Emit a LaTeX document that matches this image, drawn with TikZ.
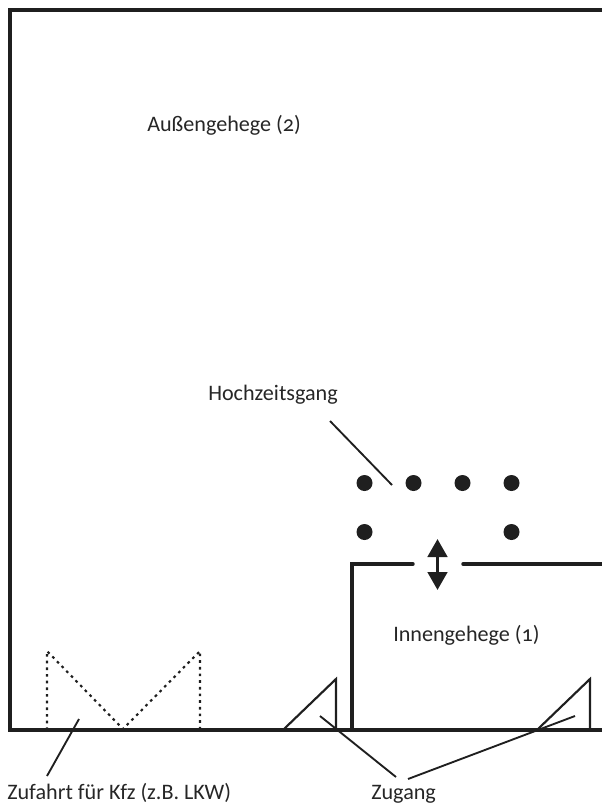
\documentclass[tikz,border=0pt]{standalone}
\usepackage{fontspec}
\setmainfont[Numbers=OldStyle]{Carlito}
\usetikzlibrary{arrows.meta}
\tikzset{
  heavy/.style={line width=3pt,draw=black!88,line cap=butt,line join=miter},
  wall/.style={line width=2.6pt,draw=black!88,line cap=round,line join=miter},
  gate/.style={line width=1.6pt,draw=black!88,line join=miter},
  leader/.style={line width=1.4pt,draw=black!88},
  drive/.style={line width=1.6pt,draw=black!88,dash pattern=on 2pt off 3pt},
  post/.style={circle,fill=black!88,minimum size=12pt,inner sep=0pt,outer sep=0pt},
  lab/.style={anchor=base west,inner sep=0pt,font=\fontsize{16.6pt}{18pt}\selectfont,text=black!85},
  passage/.style={line width=2.8pt,draw=black!88,{Triangle[length=13.5pt,width=14.5pt]}-{Triangle[length=13.5pt,width=14.5pt]}}
}
\begin{document}
\begin{tikzpicture}[x=0.75pt,y=-0.75pt]
\useasboundingbox (0,0) rectangle (602,803);
% outer enclosure
\coordinate (ot) at (602,10);
\coordinate (otl) at (10,10);
\coordinate (obl) at (10,730);
\coordinate (obr) at (602,730);
\draw[heavy] (ot) -- (otl) -- (obl) -- (obr);
% inner enclosure
\coordinate (ib) at (352,730);
\coordinate (itl) at (352,564);
\coordinate (itm) at (413,564);
\coordinate (itn) at (463,564);
\coordinate (itr) at (602,564);
\draw[wall] (ib) -- (itl) -- (itm);
\draw[wall] (itn) -- (itr);
% access triangles
\coordinate (ga) at (284,729);\coordinate (gb) at (336,679);\coordinate (gc) at (336,729);
\draw[gate] (ga) -- (gb) -- (gc);
\coordinate (ha) at (538,729);\coordinate (hb) at (590,679);\coordinate (hc) at (590,729);
\draw[gate] (ha) -- (hb) -- (hc);
% vehicle drive
\coordinate (da) at (47,730);\coordinate (db) at (47,651);\coordinate (dc) at (123,729);
\coordinate (dd) at (200,651);\coordinate (de) at (200,730);
\draw[drive] (da) -- (db) -- (dc) -- (dd) -- (de);
% posts
\node[post] (p1) at (364.5,483) {};
\node[post] (p2) at (413.5,483) {};
\node[post] (p3) at (462.5,483) {};
\node[post] (p4) at (511.5,483) {};
\node[post] (p5) at (364.5,532) {};
\node[post] (p6) at (511.5,532) {};
% passage arrow
\coordinate (au) at (437.5,539);
\coordinate (ad) at (437.5,590);
\draw[passage] (au) -- (ad);
% labels
\node[lab] (aussen) at (147,131) {Außengehege (2)};
\node[lab] (hoch) at (208,400) {Hochzeitsgang};
\node[lab] (innen) at (393,641) {Innengehege (1)};
\node[lab] (zuf) at (7,799) {Zufahrt für Kfz (z.B. LKW)};
\node[lab] (zug) at (371,799) {Zugang};
% leaders
\coordinate (lh1) at (330,421);\coordinate (lh2) at (392,485);
\draw[leader] (lh1) -- (lh2);
\coordinate (lk1) at (79,719);\coordinate (lk2) at (47,776);
\draw[leader] (lk1) -- (lk2);
\coordinate (lz1) at (320,716);\coordinate (lz2) at (396,777);
\draw[leader] (lz1) -- (lz2);
\coordinate (lz3) at (575,716);\coordinate (lz4) at (408,779);
\draw[leader] (lz3) -- (lz4);
\end{tikzpicture}
\end{document}
